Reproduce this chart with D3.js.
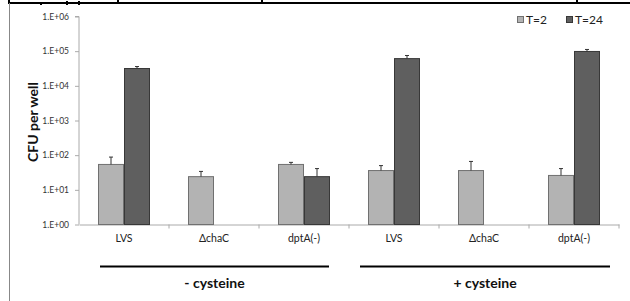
<!DOCTYPE html>
<html>
<head>
<meta charset="utf-8">
<script src="https://cdn.jsdelivr.net/npm/d3@7/dist/d3.min.js"></script>
<style>
  body { margin: 0; background: #fff; }
  svg { display: block; font-family: Lato, "Open Sans", sans-serif; }
</style>
</head>
<body>
<svg id="chart" width="630" height="301"></svg>
<script>
// categories along the x axis
const strains = ['LVS', 'ΔchaC', 'dptA(-)', 'LVS', 'ΔchaC', 'dptA(-)'];
const seriesNames = ['T=2', 'T=24'];
// CFU per well (null = no bar)
const t2 = [54, 24, 54, 36, 36, 26];
const t24 = [31600, null, 24, 61000, null, 98000];
// upper end of the error bars
const t2Err = [88, 34, 62, 50, 66, 41];
const t24Err = [36000, null, 41, 75000, null, 112000];
const yTicks = [1, 10, 100, 1000, 10000, 100000, 1000000];
const groups = [
  { label: '- cysteine', from: 0, to: 3 },
  { label: '+ cysteine', from: 3, to: 6 },
];

const fills = ['#b3b3b3', '#5f5f5f'];
const strokes = ['#707070', '#383838'];

const svg = d3.select('#chart');

// bits of the surrounding table border
svg.append('line').attr('x1', 9).attr('x2', 630).attr('y1', 3).attr('y2', 3)
  .attr('stroke', '#000').attr('stroke-width', 2);
[9, 118, 262, 577].forEach((xp) => {
  svg.append('line').attr('x1', xp).attr('x2', xp).attr('y1', 0).attr('y2', 4)
    .attr('stroke', '#000').attr('stroke-width', 2);
});
svg.append('line').attr('x1', 9.5).attr('x2', 9.5).attr('y1', 3).attr('y2', 301)
  .attr('stroke', '#888').attr('stroke-width', 1);
// descenders of the clipped header text
[[40, 3, 2, 2], [66, 1, 2, 4], [78, 1, 2, 4]].forEach(([rx, ry, rw, rh]) => {
  svg.append('rect').attr('x', rx).attr('y', ry).attr('width', rw).attr('height', rh).attr('fill', '#000');
});

const left = 79;
const right = 619;
const x = d3.scaleBand().domain(d3.range(strains.length)).range([left, right]);
const y = d3.scaleLog().domain([1, 1e6]).range([224.5, 16.5]);

// y axis
const yAxis = d3.axisLeft(y).tickValues(yTicks).tickSize(4).tickPadding(6)
  .tickFormat(d => '1.E+' + String(Math.round(Math.log10(d))).padStart(2, '0'));
const yg = svg.append('g').attr('transform', `translate(${left},0)`).call(yAxis);
yg.select('.domain').attr('stroke', '#aaa').attr('d', `M-4,${y(1e6)}H0V${y(1)}`);
yg.selectAll('.tick line').attr('stroke', '#aaa');
yg.selectAll('.tick text').attr('font-size', 8.5).attr('fill', '#333').attr('font-family', 'Lato, sans-serif');

// x axis
const xAxis = d3.axisBottom(x).tickSize(0).tickFormat(i => strains[i]).tickPadding(10);
const xg = svg.append('g').attr('transform', `translate(0,${y(1)})`).call(xAxis);
xg.select('.domain').attr('stroke', '#aaa');
xg.selectAll('.tick text').attr('font-size', 10.5).attr('fill', '#222').attr('font-family', 'Lato, sans-serif');
// category separators
xg.selectAll('.sep').data(d3.range(strains.length))
  .enter().append('line')
  .attr('x1', i => x(i) + x.bandwidth()).attr('x2', i => x(i) + x.bandwidth())
  .attr('y1', 0).attr('y2', 4).attr('stroke', '#aaa');

// bars
const series = [t2, t24];
const errs = [t2Err, t24Err];
const barW = 26;
series.forEach((vals, s) => {
  const data = vals.map((v, i) => ({ v, i, e: errs[s][i] })).filter(d => d.v !== null);
  const bx = d => x(d.i) + x.bandwidth() / 2 + (s === 0 ? -barW : 0);
  svg.append('g').selectAll('rect').data(data).enter().append('rect')
    .attr('x', d => bx(d) + 0.5)
    .attr('y', d => y(d.v))
    .attr('width', barW - 1)
    .attr('height', d => y(1) - y(d.v))
    .attr('fill', fills[s])
    .attr('stroke', strokes[s])
    .attr('stroke-width', 1);
  const eg = svg.append('g').attr('stroke', '#333').attr('stroke-width', 1);
  eg.selectAll('.err').data(data).enter().append('path')
    .attr('fill', 'none')
    .attr('d', (d) => {
      const cx = bx(d) + barW / 2;
      return `M${cx},${y(d.v)}V${y(d.e)}M${cx - 2},${y(d.e)}H${cx + 2}`;
    });
});

// group lines and labels
const lineInset = [[21, 20], [11, 9]];
groups.forEach((g, k) => {
  const x1 = x(g.from) + lineInset[k][0];
  const x2 = x(g.to - 1) + x.bandwidth() - lineInset[k][1];
  svg.append('line').attr('x1', x1).attr('x2', x2).attr('y1', 266.5).attr('y2', 266.5)
    .attr('stroke', '#000').attr('stroke-width', 1.8);
  svg.append('text').attr('x', (x1 + x2) / 2).attr('y', 288)
    .attr('text-anchor', 'middle').attr('font-size', 14).attr('font-weight', 'bold')
    .attr('fill', '#111').text(g.label);
});

// y title
svg.append('text')
  .attr('transform', 'translate(38,122) rotate(-90)')
  .attr('text-anchor', 'middle').attr('font-size', 14).attr('font-weight', 'bold')
  .attr('fill', '#111').text('CFU per well');

// legend
const lx = [517, 566];
seriesNames.forEach((n, s) => {
  svg.append('rect').attr('x', lx[s] + 0.5).attr('y', 16.5).attr('width', 6).attr('height', 6)
    .attr('fill', fills[s]).attr('stroke', strokes[s]);
  svg.append('text').attr('x', lx[s] + 9).attr('y', 24).attr('font-size', 12)
    .attr('fill', '#222').text(n);
});
</script>
</body>
</html>
